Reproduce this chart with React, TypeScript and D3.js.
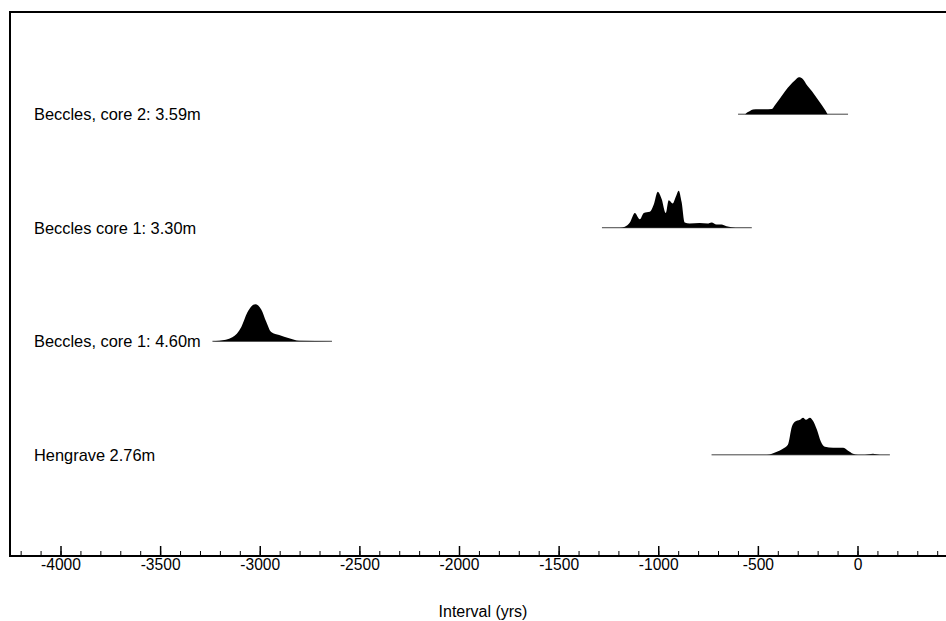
import React from "react";
import * as d3 from "d3";

const W = 946;
const H = 621;

const labels = [
  "Beccles, core 2: 3.59m",
  "Beccles core 1: 3.30m",
  "Beccles, core 1: 4.60m",
  "Hengrave 2.76m",
];

// calibrated year (BC/AD as negative/positive) and relative probability
const b2Years = [-602, -567, -557, -542, -527, -500, -470, -432, -417, -391, -366, -341, -316, -296, -276, -256, -231, -206, -181, -161, -151, -50];
const b2Prob = [0, 0, 1.7, 3.3, 4.7, 5, 5, 5.3, 9, 16, 23, 29, 34, 37, 35, 29, 23, 16, 9, 3, 0, 0];

const b1aYears = [-1285, -1195, -1170, -1145, -1120, -1095, -1075, -1045, -1025, -1005, -985, -965, -950, -930, -915, -900, -885, -870, -845, -795, -755, -735, -710, -685, -660, -635, -595, -533];
const b1aProb = [0, 0, 1, 5, 14, 8, 14, 15, 22, 34, 27, 14, 26, 23, 29, 35, 24, 5, 4, 4.5, 4, 5, 3, 3, 1.5, 0.5, 0, 0];

const b1bYears = [-3240, -3205, -3140, -3095, -3065, -3025, -2995, -2970, -2945, -2905, -2855, -2805, -2640];
const b1bProb = [0, 0.5, 4, 14, 28, 36, 31, 19, 9, 6, 3, 0.5, 0];

const hYears = [-735, -457, -407, -377, -352, -332, -317, -291, -276, -261, -241, -226, -206, -186, -166, -125, -75, -50, -25, 0, 35, 75, 110, 160];
const hProb = [0, 0, 3, 6, 10, 28, 33, 35, 37, 35, 37, 34, 25, 13, 8, 7, 7, 4, 1, 0, 0, 1, 0, 0];

const seriesYears = [b2Years, b1aYears, b1bYears, hYears];
const seriesProb = [b2Prob, b1aProb, b1bProb, hProb];

const majorTicks = [-4000, -3500, -3000, -2500, -2000, -1500, -1000, -500, 0];
const minorTicks = d3.range(-4200, 500, 100);

export default function App() {
  const x = d3.scaleLinear().domain([-4000, 0]).range([61, 858]);
  const y = d3.scalePoint<string>().domain(labels).range([12, 557]).padding(0.9);
  const font = "'Liberation Sans', Arial, Helvetica, sans-serif";
  const axisY = 556;

  return (
    <svg width={W} height={H} style={{ position: "absolute", left: 0, top: 0, background: "#fff" }} fontFamily={font}>
      <rect x={10} y={12} width={1000} height={axisY - 12} fill="none" stroke="#000" strokeWidth={2} />
      {labels.map((lab, i) => {
        const base = y(lab) as number;
        const yrs = seriesYears[i];
        const pr = seriesProb[i];
        const h = d3.scaleLinear().domain([0, d3.max(pr) as number]).range([0, 37]);
        const pts = yrs.map((yr, k) => [yr, pr[k]] as [number, number]);
        const area = d3
          .area<[number, number]>()
          .x((d) => x(d[0]))
          .y0(base)
          .y1((d) => base - h(d[1]))
          .curve(d3.curveMonotoneX);
        return (
          <g key={lab}>
            <text x={34} y={base} dy="0.36em" fontSize={16.4} fill="#000">
              {lab}
            </text>
            <line x1={x(yrs[0])} x2={x(yrs[yrs.length - 1])} y1={base} y2={base} stroke="#444" strokeWidth={1} />
            <path d={area(pts) || ""} fill="#000" />
          </g>
        );
      })}
      {minorTicks.map((t) => (
        <line key={"m" + t} x1={x(t)} x2={x(t)} y1={axisY} y2={axisY - 5} stroke="#000" strokeWidth={1} />
      ))}
      {majorTicks.map((t) => (
        <g key={"M" + t}>
          <line x1={x(t)} x2={x(t)} y1={axisY} y2={axisY - 10} stroke="#000" strokeWidth={1.5} />
          <text x={x(t)} y={570} textAnchor="middle" fontSize={15.6} fill="#000">
            {t}
          </text>
        </g>
      ))}
      <text x={483} y={617} textAnchor="middle" fontSize={16} fill="#000">
        Interval (yrs)
      </text>
    </svg>
  );
}
